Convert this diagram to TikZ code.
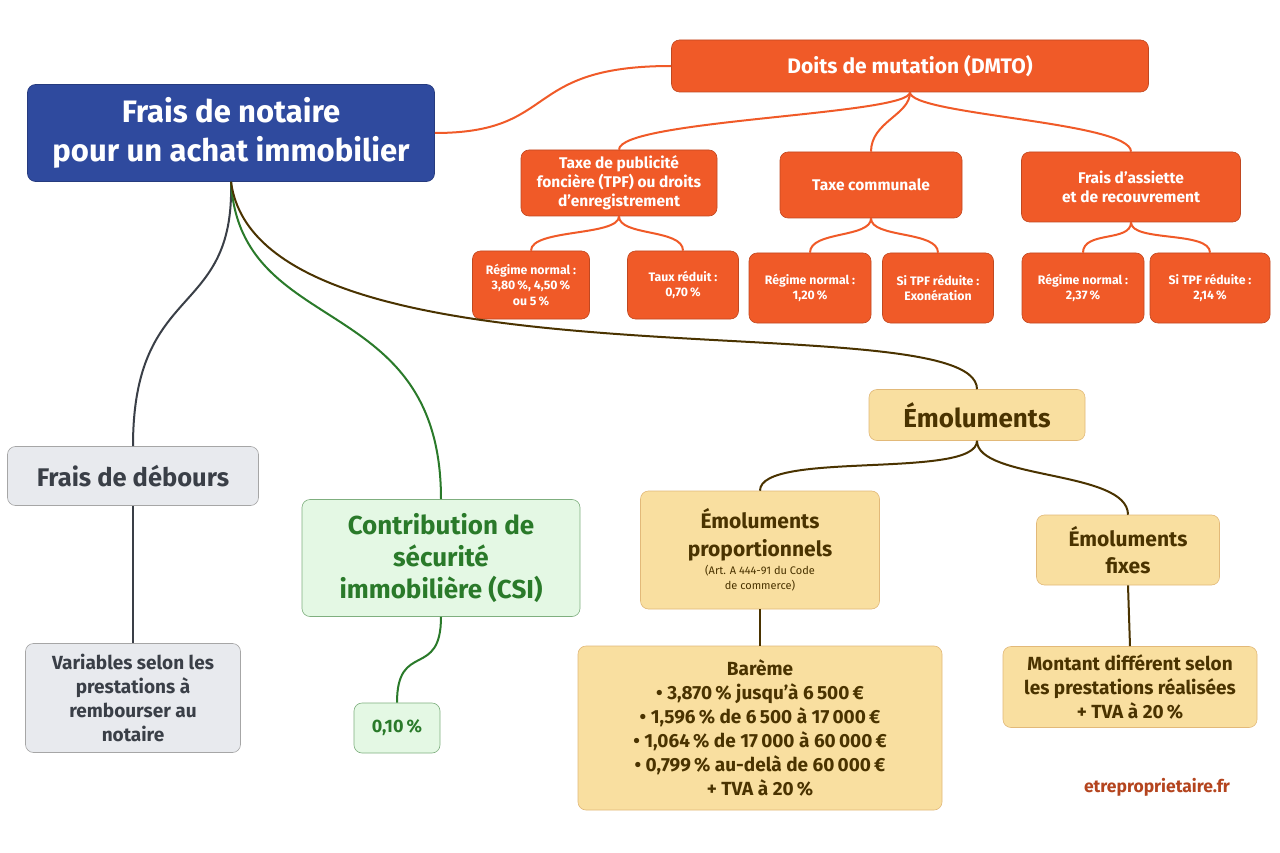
\documentclass[tikz,border=0pt]{standalone}
\usepackage{fontspec}
\setmainfont{Fira Sans}
\usetikzlibrary{calc}
\begin{document}
\begin{tikzpicture}[x=1pt,y=-1pt,
 box/.style={draw=#1!80!black,rounded corners=8pt,align=center,inner sep=0pt,font=\bfseries,line width=0.6pt},
 org/.style={box=orgc,fill=orgc,text=white},
 yel/.style={box=yelc,fill=yelc,text=brn,draw=yelc!60!brown},
 gry/.style={box=gryc,fill=gryc,text=txtg,draw=gray!70},
 grn/.style={box=grnc,fill=grnc,text=grt,draw=grt!60},
 ol/.style={draw=orgc,line width=2pt},
 bl/.style={draw=brn,line width=2pt}]
\definecolor{orgc}{HTML}{F05A28}
\definecolor{yelc}{HTML}{F9DFA0}
\definecolor{brn}{HTML}{4A3300}
\definecolor{gryc}{HTML}{E8EAEE}
\definecolor{txtg}{HTML}{3A3F47}
\definecolor{grnc}{HTML}{E4F8E4}
\definecolor{grt}{HTML}{2A7A2A}
\definecolor{bluec}{HTML}{2F4A9E}
\useasboundingbox (0,0) rectangle (1280,853);
\fill[white] (0,0) rectangle (1280,853);
% nodes
\node[box=bluec,fill=bluec,text=white,minimum width=407pt,minimum height=97pt,font=\bfseries\fontsize{31}{39}\selectfont] (main) at (231,133) {Frais de notaire\\pour un achat immobilier};
\node[org,minimum width=477pt,minimum height=52pt,font=\bfseries\fontsize{21}{24}\selectfont] (dmto) at (910,66) {Doits de mutation (DMTO)};
\tikzset{mid/.style={org,font=\bfseries\fontsize{15.5}{19}\selectfont}}
\node[mid,minimum width=196pt,minimum height=66pt] (tpf) at (619,183) {Taxe de publicité\\foncière (TPF) ou droits\\d’enregistrement};
\node[mid,minimum width=182pt,minimum height=66pt] (tc) at (871,185) {Taxe communale};
\node[mid,minimum width=219pt,minimum height=70pt] (fa) at (1131,187) {Frais d’assiette\\et de recouvrement};
\tikzset{sm/.style={org,font=\bfseries\fontsize{12.3}{15.5}\selectfont,minimum height=70pt}}
\node[sm,minimum width=117pt,minimum height=68pt] (r1) at (531,285) {Régime normal :\\3,80\,\%, 4,50\,\%\\ou 5\,\%};
\node[sm,minimum width=111pt,minimum height=68pt] (r2) at (683,285) {Taux réduit :\\0,70\,\%};
\node[sm,minimum width=122pt] (r3) at (810,288) {Régime normal :\\1,20\,\%};
\node[sm,minimum width=111pt] (r4) at (938,288) {Si TPF réduite :\\Exonération};
\node[sm,minimum width=122pt] (r5) at (1083,288) {Régime normal :\\2,37\,\%};
\node[sm,minimum width=120pt] (r6) at (1210,288) {Si TPF réduite :\\2,14\,\%};
\node[yel,minimum width=216pt,minimum height=51pt,font=\bfseries\fontsize{26}{30}\selectfont] (emo) at (977,415) {Émoluments};
\node[yel,minimum width=239pt,minimum height=118pt,font=\bfseries\fontsize{21}{28}\selectfont] (ep) at (760,550) {Émoluments\\proportionnels\\[-10pt]\mdseries\fontsize{11}{13}\selectfont (Art. A 444-91 du Code\\[-13pt]\mdseries\fontsize{11}{13}\selectfont de commerce)};
\node[yel,minimum width=183pt,minimum height=70pt,font=\bfseries\fontsize{21}{27}\selectfont] (ef) at (1128,550) {Émoluments\\fixes};
\node[yel,minimum width=364pt,minimum height=164pt,font=\bfseries\fontsize{19}{24}\selectfont] (bar) at (760,728) {Barème\\• 3,870\,\% jusqu’à 6\,500\,€\\• 1,596\,\% de 6\,500 à 17\,000\,€\\• 1,064\,\% de 17\,000 à 60\,000\,€\\• 0,799\,\% au-delà de 60\,000\,€\\+ TVA à 20\,\%};
\node[yel,minimum width=254pt,minimum height=81pt,font=\bfseries\fontsize{19}{24}\selectfont] (mon) at (1130,687) {Montant différent selon\\les prestations réalisées\\+ TVA à 20\,\%};
\node[gry,minimum width=251pt,minimum height=59pt,font=\bfseries\fontsize{25.5}{30}\selectfont] (deb) at (133,476) {Frais de débours};
\node[gry,minimum width=215pt,minimum height=109pt,font=\bfseries\fontsize{19}{24}\selectfont] (var) at (133,698) {Variables selon les\\prestations à\\rembourser au\\notaire};
\node[grn,minimum width=278pt,minimum height=117pt,font=\bfseries\fontsize{26}{32}\selectfont] (csi) at (441,558) {Contribution de\\sécurité\\immobilière (CSI)};
\node[grn,minimum width=86pt,minimum height=50pt,font=\bfseries\fontsize{18}{22}\selectfont] (pc) at (397,728) {0,10\,\%};
\node[text=orgc!75!black,font=\bfseries\fontsize{17.5}{20}\selectfont] (site) at (1157,787) {etreproprietaire.fr};
% connectors
\draw[ol] (main.east) .. controls (560,133) and (520,66) .. (dmto.west);
\foreach \t in {tpf,tc,fa}{\draw[ol] (dmto.south) .. controls (910,115) and ($(\t.north)+(0,-30)$) .. (\t.north);}
\foreach \p/\t in {tpf/r1,tpf/r2,tc/r3,tc/r4,fa/r5,fa/r6}{\draw[ol] (\p.south) .. controls ($(\p.south)+(0,20)$) and ($(\t.north)+(0,-22)$) .. (\t.north);}
\draw[draw=txtg,line width=2pt] (main.south) .. controls (235,320) and (133,280) .. (deb.north);
\draw[draw=txtg,line width=2pt] (deb.south) -- (var.north);
\draw[draw=grt,line width=2pt] (main.south) .. controls (240,340) and (441,290) .. (csi.north);
\draw[draw=grt,line width=2pt] (csi.south) .. controls (441,680) and (397,640) .. (pc.north);
\draw[bl] (main.south) .. controls (260,400) and (977,300) .. (emo.north);
\draw[bl] (emo.south) .. controls (977,480) and (760,450) .. (ep.north);
\draw[bl] (emo.south) .. controls (977,480) and (1128,470) .. (ef.north);
\draw[bl] (ep.south) -- (bar.north);
\draw[bl] (ef.south) -- (mon.north);
\end{tikzpicture}
\end{document}
